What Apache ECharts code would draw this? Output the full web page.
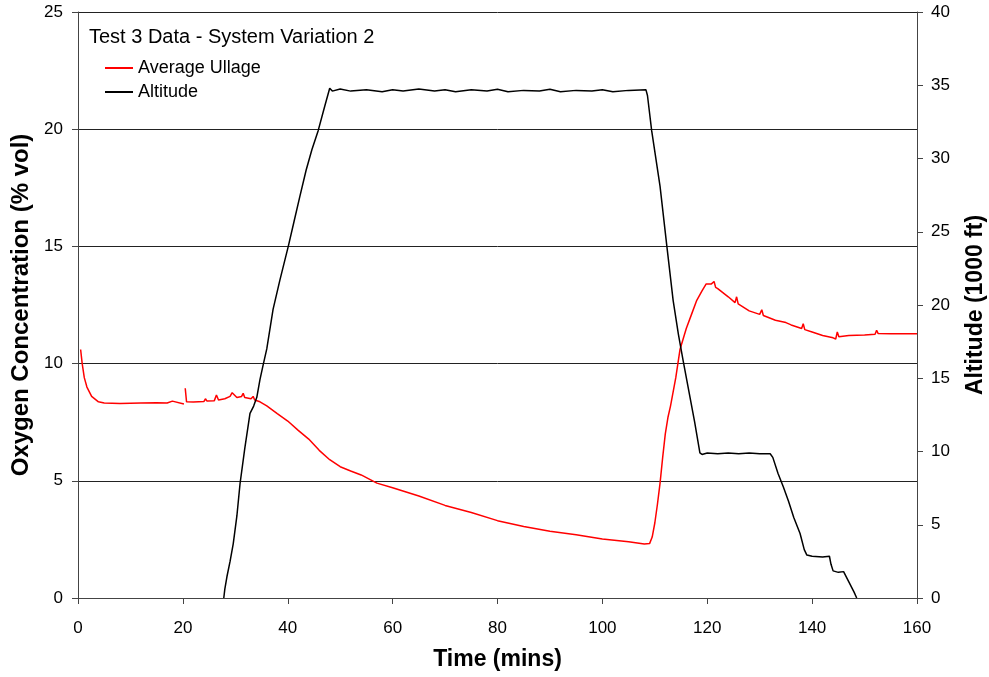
<!DOCTYPE html>
<html>
<head>
<meta charset="utf-8">
<script src="https://cdn.jsdelivr.net/npm/echarts@6/dist/echarts.min.js"></script>
<style>
html,body{margin:0;padding:0;background:#fff;}
#chart{width:989px;height:677px;}
</style>
</head>
<body>
<div id="chart"></div>
<script>
// Average Ullage (oxygen % vol) vs time (mins); null marks the data gap
const ullageTime = [0.5,0.8,1.2,1.7,2.6,3.9,5,8,12,15,17,18,18.3,20.2,20.35,
  20.45,20.7,22,24,24.3,24.6,26,26.4,26.8,28,29,29.4,30.3,31.2,31.5,31.8,33,33.4,33.7,34.7,
  36,38,40,42,44,46,48,50,52,54,57,60,65,70,75,80,85,90,95,100,105,108,109,
  109.5,110,110.5,111,111.5,112,112.5,113,114,114.8,116,117,118,119,119.8,120.8,121.3,121.6,122,
  124,125.3,125.6,125.9,128,130,130.4,130.7,133,135,136,138,138.3,138.6,140,142,144,144.5,144.8,145.1,
  147,150,152,152.3,152.6,155,160];
const ullageO2 = [10.6,10.0,9.4,9.0,8.6,8.37,8.32,8.3,8.32,8.33,8.32,8.4,8.32,8.28,null,
  8.95,8.37,8.36,8.38,8.5,8.4,8.42,8.66,8.45,8.5,8.6,8.76,8.55,8.6,8.73,8.55,8.5,8.6,8.45,8.37,
  8.2,7.87,7.55,7.15,6.78,6.3,5.9,5.6,5.42,5.25,4.9,4.7,4.35,3.95,3.65,3.3,3.05,2.85,2.7,2.52,2.4,2.3,2.32,
  2.6,3.2,4.0,4.9,6.0,7.0,7.7,8.2,9.4,10.6,11.5,12.1,12.7,13.1,13.4,13.4,13.5,13.25,13.2,
  12.85,12.6,12.85,12.55,12.25,12.1,12.3,12.05,11.85,11.75,11.65,11.5,11.7,11.45,11.35,11.2,11.1,11.05,11.35,11.15,
  11.2,11.22,11.25,11.42,11.28,11.27,11.27];

// Altitude (1000 ft) vs time (mins)
const altTime = [27.8,28.0,28.4,29.0,29.6,30.3,30.9,31.8,32.8,33.5,34.1,34.7,35.3,36.0,37.2,38.5,40.1,41.2,42.3,43.5,44.6,45.8,47.0,48.0,
  48.5,50,52,55,58,60,62,65,68,70,72,75,78,80,82,85,88,90,92,95,98,100,102,105,108.3,
  108.6,109.4,111,112.3,113.5,114.5,115.4,116.5,117.6,118.6,119,120,122,124,126,128,130,132,
  132.5,133.5,134.5,135.5,136.5,137.7,138.5,139,140,142,143.3,143.6,144,145,146,146.3,147,148,148.5];
const altitude = [0,0.6,1.45,2.5,3.7,5.6,7.8,10.2,12.6,13.1,13.7,14.9,15.9,17.0,19.7,21.7,24.0,25.7,27.4,29.2,30.6,31.9,33.5,34.8,
  34.6,34.75,34.6,34.7,34.55,34.7,34.6,34.75,34.6,34.7,34.55,34.7,34.6,34.72,34.55,34.65,34.6,34.72,34.55,34.65,34.6,34.7,34.55,34.65,34.7,
  34.3,31.9,28.1,24.0,20.3,18.0,16.2,14.1,12.0,9.9,9.8,9.9,9.85,9.9,9.85,9.9,9.85,9.85,
  9.6,8.5,7.6,6.6,5.5,4.4,3.3,2.93,2.85,2.8,2.85,2.3,1.85,1.75,1.8,1.7,1.1,0.4,0];

const xTicks = {min:0, max:160, interval:20};
const leftTicks = {min:0, max:25, interval:5};
const rightTicks = {min:0, max:40, interval:5};

const pair = (t, v) => t.map((x, i) => [x, v[i]]);
const FONT = '"Liberation Sans", Arial, sans-serif';

const chart = echarts.init(document.getElementById('chart'));
chart.setOption({
  animation: false,
  backgroundColor: '#fff',
  textStyle: {fontFamily: FONT},
  title: {
    text: 'Test 3 Data - System Variation 2',
    left: 84, top: 22,
    textStyle: {fontFamily: FONT, fontSize: 20, fontWeight: 'normal', color: '#000'}
  },
  legend: {
    orient: 'vertical',
    left: 100, top: 54,
    itemWidth: 28, itemHeight: 2, itemGap: 6,
    icon: 'rect',
    textStyle: {fontFamily: FONT, fontSize: 18, color: '#000'},
    data: ['Average Ullage', 'Altitude']
  },
  grid: {left: 78, right: 72, top: 12, bottom: 79, containLabel: false, outerBoundsMode: 'none'},
  xAxis: {
    type: 'value', min: xTicks.min, max: xTicks.max, interval: xTicks.interval,
    name: 'Time (mins)', nameLocation: 'middle', nameGap: 50,
    nameTextStyle: {fontFamily: FONT, fontSize: 23, fontWeight: 'bold', color: '#000'},
    axisLine: {show: true, lineStyle: {color: '#444', width: 1}},
    axisTick: {show: true, inside: false, length: 6, lineStyle: {color: '#444'}},
    axisLabel: {fontFamily: FONT, fontSize: 17, color: '#000', margin: 22},
    splitLine: {show: false}
  },
  yAxis: [{
    type: 'value', min: leftTicks.min, max: leftTicks.max, interval: leftTicks.interval,
    position: 'left',
    name: 'Oxygen Concentration (% vol)', nameLocation: 'middle', nameGap: 42,
    nameTextStyle: {fontFamily: FONT, fontSize: 24, fontWeight: 'bold', color: '#000'},
    axisLine: {show: true, lineStyle: {color: '#444', width: 1}},
    axisTick: {show: true, inside: false, length: 6, lineStyle: {color: '#444'}},
    axisLabel: {fontFamily: FONT, fontSize: 17, color: '#000', margin: 15},
    splitLine: {show: true, lineStyle: {color: '#222', width: 1}}
  }, {
    type: 'value', min: rightTicks.min, max: rightTicks.max, interval: rightTicks.interval,
    position: 'right',
    name: 'Altitude (1000 ft)', nameLocation: 'middle', nameGap: 47,
    nameTextStyle: {fontFamily: FONT, fontSize: 23, fontWeight: 'bold', color: '#000'},
    axisLine: {show: true, lineStyle: {color: '#444', width: 1}},
    axisTick: {show: true, inside: false, length: 6, lineStyle: {color: '#444'}},
    axisLabel: {fontFamily: FONT, fontSize: 17, color: '#000', margin: 14},
    splitLine: {show: false}
  }],
  series: [{
    name: 'Average Ullage', type: 'line', yAxisIndex: 0,
    data: pair(ullageTime, ullageO2),
    showSymbol: false, symbol: 'none', connectNulls: false,
    lineStyle: {color: '#ff0000', width: 1.5},
    itemStyle: {color: '#ff0000'}
  }, {
    name: 'Altitude', type: 'line', yAxisIndex: 1,
    data: pair(altTime, altitude),
    showSymbol: false, symbol: 'none',
    lineStyle: {color: '#000', width: 1.5},
    itemStyle: {color: '#000'}
  }]
});
</script>
</body>
</html>
